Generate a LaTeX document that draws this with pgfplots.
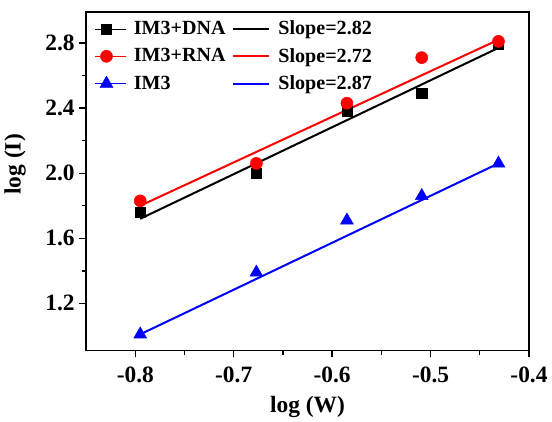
\documentclass[border=0pt]{standalone}
\usepackage{pgfplots}
\pgfplotsset{compat=1.18}
\usepackage{fontspec}
\setmainfont{Liberation Serif}
\pgfplotsset{
  ll/.style={legend image code/.code={\draw[##1] (0cm,0cm) -- (0.95cm,0cm);}},
  mm/.style={legend image code/.code={\path (0cm,0cm) -- (0.8cm,0cm); \draw[##1] plot coordinates {(0.3cm,0cm)};}}
}
\begin{document}
\begin{tikzpicture}
\begin{axis}[
  scale only axis,
  width=331pt, height=253pt,
  xmin=-0.85, xmax=-0.4,
  ymin=0.91, ymax=2.99,
  xtick={-0.8,-0.7,-0.6,-0.5,-0.4},
  ytick={1.2,1.6,2.0,2.4,2.8},
  minor x tick num=1,
  minor y tick num=1,
  xticklabel style={/pgf/number format/fixed, /pgf/number format/precision=1, yshift=-4pt},
  yticklabel style={/pgf/number format/fixed, /pgf/number format/fixed zerofill, /pgf/number format/precision=1},
  /pgf/number format/assume math mode=true,
  ticklabel style={font=\fontsize{17.5}{19}\selectfont\bfseries},
  tick align=outside,
  xtick pos=bottom, ytick pos=left,
  major tick length=5pt, minor tick length=3pt,
  every tick/.style={black, line width=1pt},
  axis line style={line width=1.2pt},
  every axis title/.style={at={(0.5,1)}, anchor=south, inner sep=0pt, outer sep=0pt},
  title={\rule{0pt}{9pt}},
  xlabel={\fontsize{17.5}{19}\selectfont\bfseries log (W)},
  ylabel={\fontsize{17.5}{19}\selectfont\bfseries log (I)},
  every axis x label/.style={at={(axis description cs:0.5,0)}, anchor=center, yshift=-42pt},
  every axis y label/.style={at={(axis description cs:0,0.55)}, xshift=-53pt, rotate=90, anchor=center},
  legend columns=2,
  legend cell align=left,
  legend style={draw=none, fill=none, at={(0.01,0.99)}, anchor=north west, yshift=0pt,
    font=\fontsize{15}{17}\selectfont\bfseries, row sep=4.5pt,
    /tikz/every even column/.append style={column sep=3pt},
    /tikz/every odd column/.append style={column sep=4pt}},
]
\addplot[only marks, mark=square*, mark size=3.8pt, black, mm] coordinates {
  (-0.795,1.76) (-0.677,2.00) (-0.585,2.38) (-0.509,2.49) (-0.431,2.79)};
\addlegendentry{IM3+DNA}
\addplot[black, line width=1.5pt, no markers, ll] coordinates {(-0.795,1.72) (-0.431,2.77)};
\addlegendentry{Slope=2.82}
\addplot[only marks, mark=*, mark size=4.5pt, red, mm] coordinates {
  (-0.795,1.83) (-0.677,2.06) (-0.585,2.43) (-0.509,2.71) (-0.431,2.81)};
\addlegendentry{IM3+RNA}
\addplot[red, line width=1.5pt, no markers, ll] coordinates {(-0.795,1.80) (-0.431,2.82)};
\addlegendentry{Slope=2.72}
\addplot[only marks, mark=triangle*, mark size=5.5pt, blue, mm] coordinates {
  (-0.795,1.01) (-0.677,1.39) (-0.585,1.71) (-0.509,1.86) (-0.431,2.06)};
\addlegendentry{IM3}
\addplot[blue, line width=1.5pt, no markers, ll] coordinates {(-0.795,1.01) (-0.431,2.06)};
\addlegendentry{Slope=2.87}
\end{axis}
\end{tikzpicture}
\end{document}
